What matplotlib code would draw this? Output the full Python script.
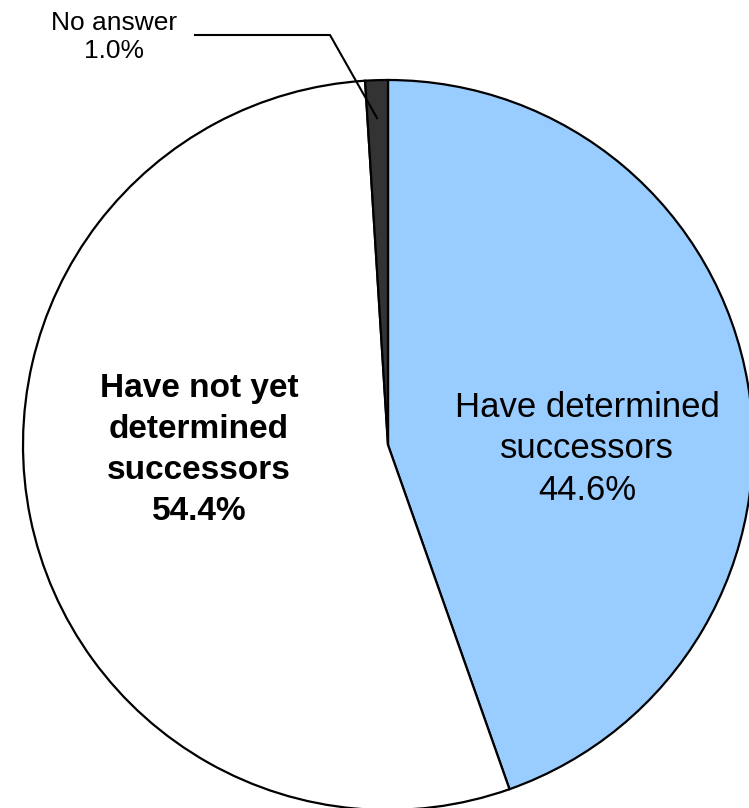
import matplotlib
matplotlib.use("Agg")
import matplotlib.pyplot as plt

categories = ["Have determined\nsuccessors", "Have not yet\ndetermined\nsuccessors", "No answer"]
values = [44.6, 54.4, 1.0]
colors = ["#99CCFF", "#FFFFFF", "#333333"]

W, H = 749, 808
cx, cy, R = 388, 445, 365

fig = plt.figure(figsize=(W / 100, H / 100), dpi=100)
ax = fig.add_axes([0, 0, 1, 1])
ax.pie(values, colors=colors, startangle=90, counterclock=False, radius=R,
       center=(0, 0), wedgeprops=dict(edgecolor="black", linewidth=1.6))
ax.set_xlim(-cx, W - cx)
ax.set_ylim(-(H - cy), cy)
ax.set_aspect("auto")
ax.axis("off")

font = ["Liberation Sans", "DejaVu Sans"]
ax.text(587 - cx, cy - 449, f"{categories[0]}\n{values[0]:.1f}%", ha="center", va="center",
        fontsize=25, family=font, linespacing=1.33)
ax.text(199 - cx, cy - 450, f"{categories[1]}\n{values[1]:.1f}%", ha="center", va="center",
        fontsize=24, family=font, fontweight="bold", linespacing=1.42)
ax.text(114 - cx, cy - 37, f"{categories[2]}\n{values[2]:.1f}%", ha="center", va="center",
        fontsize=19, family=font, linespacing=1.22)
ax.plot([195 - cx, 330 - cx, 377 - cx], [cy - 35, cy - 35, cy - 118], color="black", lw=1.5)

fig.savefig("out.png", dpi=100)
